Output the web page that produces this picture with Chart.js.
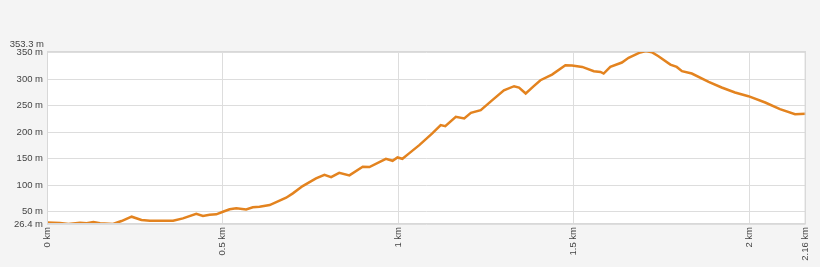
<!DOCTYPE html>
<html>
<head>
<meta charset="utf-8">
<script src="https://cdn.jsdelivr.net/npm/chart.js@4"></script>
<style>
  html, body { margin: 0; padding: 0; background: #f4f4f4; }
  #wrap { width: 820px; height: 267px; }
</style>
</head>
<body>
<div id="wrap"><canvas id="elevChart" width="820" height="267"></canvas></div>
<script>
// distance along the route (km) and elevation (m)
const distKm = [0, 0.037, 0.061, 0.094, 0.113, 0.132, 0.151, 0.188, 0.212, 0.241, 0.269, 0.293, 0.359, 0.387,
  0.425, 0.444, 0.463, 0.482, 0.501, 0.520, 0.539, 0.567, 0.586, 0.605, 0.634, 0.681, 0.700, 0.728, 0.766,
  0.790, 0.809, 0.832, 0.861, 0.899, 0.918, 0.965, 0.984, 0.998, 1.012, 1.031, 1.060, 1.097, 1.121, 1.134,
  1.164, 1.188, 1.207, 1.235, 1.268, 1.301, 1.330, 1.344, 1.363, 1.386, 1.405, 1.438, 1.476, 1.495, 1.524,
  1.557, 1.576, 1.585, 1.604, 1.637, 1.656, 1.689, 1.705, 1.722, 1.741, 1.775, 1.793, 1.808, 1.836, 1.884,
  1.921, 1.959, 1.997, 2.045, 2.087, 2.130, 2.160];
const elevM = [29, 28.3, 26.4, 28.9, 27.7, 30, 27.7, 26.4, 32, 40.2, 34, 32.6, 32.6, 37,
  45.8, 41.5, 44, 44.7, 49.6, 54.1, 56, 54, 58, 59, 62.2, 76, 84.3, 98, 112.6,
  119.4, 115, 123, 118.3, 134.5, 134, 149.6, 145.8, 152.2, 149.6, 159.8, 175.5, 197.5, 213.2, 211.3,
  228.9, 225.9, 236.4, 241.5, 260.4, 279.2, 286.8, 284.3, 273, 286.8, 298.1, 308.8, 326.4, 325.8, 323.2,
  315.1, 313.8, 310.7, 323.2, 331.5, 340.4, 350.5, 353.3, 351, 343.4, 327.7, 323.2, 315.1, 310.7, 295,
  284.3, 274.9, 267.9, 256, 243.4, 234, 234.5];

const xTicks = [0, 0.5, 1, 1.5, 2, 2.16];
const yTicks = [26.4, 50, 100, 150, 200, 250, 300, 350, 353.3];
const yMaxLabel = 353.3; // drawn a little above the frame, like the original

const points = distKm.map((d, i) => ({ x: d, y: elevM[i] }));
const tickFont = { family: '"Liberation Sans", Arial, sans-serif', size: 9.5 };

const bgPlugin = {
  id: 'plotBg',
  beforeDraw(chart) {
    const { ctx, chartArea: a } = chart;
    ctx.save();
    ctx.fillStyle = '#f4f4f4';
    ctx.fillRect(0, 0, chart.width, chart.height);
    ctx.fillStyle = '#ffffff';
    ctx.fillRect(a.left, a.top, a.right - a.left, a.bottom - a.top);
    ctx.restore();
  },
  afterDraw(chart) {
    const { ctx, chartArea: a } = chart;
    ctx.save();
    ctx.strokeStyle = '#d8d8d8';
    ctx.lineWidth = 1;
    ctx.strokeRect(a.left + 0.5, a.top + 0.5, a.right - a.left - 1, a.bottom - a.top - 1);
    // top (max) label
    const y = chart.scales.y.getPixelForValue(yMaxLabel);
    ctx.fillStyle = '#444';
    ctx.font = tickFont.size + 'px ' + tickFont.family;
    ctx.textAlign = 'right';
    ctx.textBaseline = 'middle';
    ctx.fillText(yMaxLabel + ' m', a.left - 3, y - 7);
    ctx.restore();
  }
};

new Chart(document.getElementById('elevChart').getContext('2d'), {
  type: 'line',
  data: {
    datasets: [{
      data: points,
      borderColor: '#e3831f',
      borderWidth: 2.5,
      pointRadius: 0,
      tension: 0,
      fill: false
    }]
  },
  options: {
    responsive: false,
    animation: false,
    layout: { padding: { top: 51, right: 13, left: 0, bottom: 0 } },
    plugins: { legend: { display: false }, tooltip: { enabled: false } },
    scales: {
      x: {
        type: 'linear',
        min: 0,
        max: 2.16,
        afterBuildTicks: (scale) => { scale.ticks = xTicks.map(v => ({ value: v })); },
        afterFit: (scale) => { scale.height = 43; },
        ticks: {
          autoSkip: false,
          minRotation: 90,
          maxRotation: 90,
          padding: 3,
          color: '#444',
          font: tickFont,
          callback: (v) => v + ' km'
        },
        grid: { color: '#dddddd', drawTicks: false },
        border: { display: false }
      },
      y: {
        min: 26.4,
        max: 353.3,
        afterBuildTicks: (scale) => { scale.ticks = yTicks.map(v => ({ value: v })); },
        afterFit: (scale) => { scale.width = 47; },
        ticks: {
          autoSkip: false,
          padding: 4,
          color: '#444',
          font: tickFont,
          callback: (v) => (v === yMaxLabel ? '' : v + ' m')
        },
        grid: { color: '#dddddd', drawTicks: false },
        border: { display: false }
      }
    }
  },
  plugins: [bgPlugin]
});
</script>
</body>
</html>
